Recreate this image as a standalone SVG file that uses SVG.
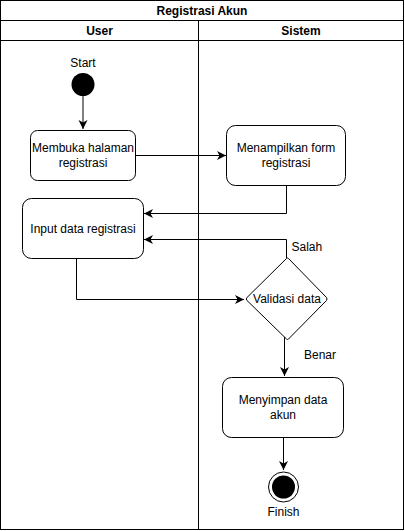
<svg xmlns="http://www.w3.org/2000/svg" width="405" height="531" viewBox="0 0 405 531">
<style>
text{font-family:"Liberation Sans",Arial,sans-serif;font-size:12px;fill:#000;text-anchor:middle;dominant-baseline:central}
.h{font-weight:bold}
.lbl{text-anchor:start}
.box{fill:#fff;stroke:#000;stroke-width:1}
.frame{fill:none;stroke:#000;stroke-width:1}
.edge{fill:none;stroke:#000;stroke-width:1}
</style>
<defs>
<marker id="arr" viewBox="0 0 10 10" refX="9" refY="5" markerWidth="10" markerHeight="10" markerUnits="userSpaceOnUse" orient="auto">
<path d="M0,0.5 L9,5 L0,9.5 L2.5,5 Z" fill="#000"/>
</marker>
</defs>
<rect width="405" height="531" fill="#fff"/>
<g id="pool">
<rect class="frame" x="0.5" y="0.5" width="403" height="529"/>
<line class="frame" x1="0.5" y1="20.5" x2="403.5" y2="20.5"/>
<line class="frame" x1="0.5" y1="40.5" x2="403.5" y2="40.5"/>
<line class="frame" x1="198.5" y1="20.5" x2="198.5" y2="529.5"/>
<text class="h" x="202" y="10.5">Registrasi Akun</text>
<text class="h" x="99.5" y="30.5">User</text>
<text class="h" x="301" y="30.5">Sistem</text>
</g>
<g id="edges">
<path class="edge" d="M83,96 L83,129" marker-end="url(#arr)"/>
<path class="edge" d="M135.5,155.5 L226,155.5" marker-end="url(#arr)"/>
<path class="edge" d="M286.5,185 L286.5,213.5 L144,213.5" marker-end="url(#arr)"/>
<path class="edge" d="M286.5,258 L286.5,239.5 L144,239.5" marker-end="url(#arr)"/>
<path class="edge" d="M76.5,258 L76.5,299.5 L244,299.5" marker-end="url(#arr)"/>
<path class="edge" d="M284.5,334 L284.5,376" marker-end="url(#arr)"/>
<path class="edge" d="M283.5,437.5 L283.5,470" marker-end="url(#arr)"/>
<text class="lbl" x="291.5" y="247">Salah</text>
<text class="lbl" x="304" y="355">Benar</text>
</g>
<g id="start">
<circle cx="83" cy="84.5" r="11.5" fill="#000"/>
<text x="83" y="63">Start</text>
</g>
<g id="membuka">
<rect class="box" x="30.5" y="130.5" width="105" height="50" rx="7"/>
<text x="83" y="148">Membuka halaman</text>
<text x="83" y="163">registrasi</text>
</g>
<g id="menampilkan">
<rect class="box" x="226.5" y="125.5" width="119" height="60" rx="9"/>
<text x="286" y="148">Menampilkan form</text>
<text x="286" y="163">registrasi</text>
</g>
<g id="input">
<rect class="box" x="22.5" y="198.5" width="121" height="60" rx="9" stroke="#333"/>
<text x="83" y="228.5">Input data registrasi</text>
</g>
<g id="validasi">
<path class="box" d="M286.5,258.5 Q287.5,257.5 288.5,258.5 L326.5,297.5 Q327.5,299 326.5,300.5 L288.5,339 Q287.5,340 286.5,339 L247,300.5 Q245.5,299 247,297.5 Z"/>
<text x="287" y="299">Validasi data</text>
</g>
<g id="menyimpan">
<rect class="box" x="222.5" y="377.5" width="121" height="60" rx="9"/>
<text x="283" y="400">Menyimpan data</text>
<text x="283" y="415">akun</text>
</g>
<g id="finish">
<circle cx="283.5" cy="487" r="15" fill="#fff" stroke="#000" stroke-width="1"/>
<circle cx="283.5" cy="487" r="11.5" fill="#000"/>
<text x="283.5" y="512">Finish</text>
</g>
</svg>
